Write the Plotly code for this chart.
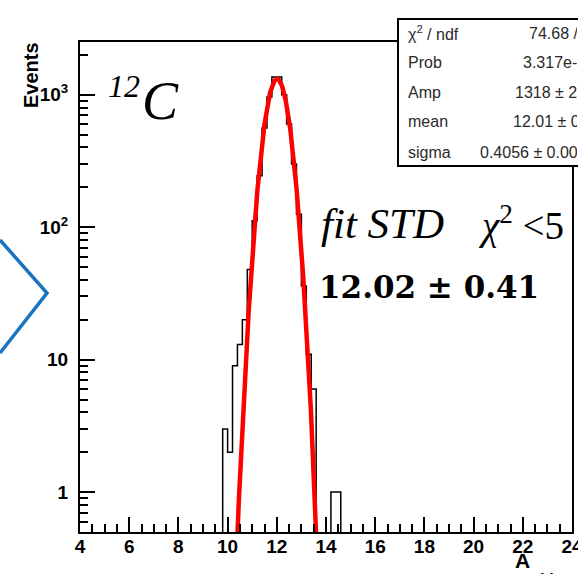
import numpy as np
import plotly.graph_objects as go

# ---- histogram of A_chi12 (0.2-wide bins) ----
bin_lo = [9.8, 10.0, 10.2, 10.4, 10.6, 10.8, 11.0, 11.2, 11.4, 11.6, 11.8, 12.0,
          12.2, 12.4, 12.6, 12.8, 13.0, 13.2, 13.4, 13.6, 13.8, 14.0, 14.2, 14.4]
counts = [3, 2, 9, 13, 20, 48, 112, 245, 560, 960, 1360, 1360,
          1000, 600, 300, 125, 36, 11, 6, 0, 0, 0, 1, 1]
bin_w = 0.2

# ---- Gaussian fit parameters ----
fit_amp, fit_mean, fit_sigma = 1318.0, 12.01, 0.4056
fit_range = (10.0, 14.0)

stat_names = ["χ<sup>2</sup> / ndf", "Prob", "Amp", "mean", "sigma"]
stat_values = ["74.68 / 13", "3.317e-10", "1318 ± 22.9", "12.01 ± 0.01", "0.4056 ± 0.0067"]

x_ticks = [4, 6, 8, 10, 12, 14, 16, 18, 20, 22, 24]
y_ticks = [1, 10, 100, 1000]
y_ticktext = ["1", "10", "10<sup>2</sup>", "10<sup>3</sup>"]

W, H = 578, 574
L, R, T, B = 80, 572, 42, 532  # plot frame in pixels


def px(x):
    return (x - L) / (R - L)


def py(y):
    return (B - y) / (B - T)


# step outline of the histogram; empty bins drop below the axis
floor = 1e-3
hx = [bin_lo[0]]
hy = [floor]
for lo, c in zip(bin_lo, counts):
    hx.append(lo)
    hy.append(c if c > 0 else floor)
hx.append(bin_lo[-1] + bin_w)
hy.append(floor)

fx = np.linspace(fit_range[0], fit_range[1], 400)
fy = fit_amp * np.exp(-0.5 * ((fx - fit_mean) / fit_sigma) ** 2)

fig = go.Figure()
fig.add_trace(go.Scatter(x=hx, y=hy, mode="lines", line=dict(color="black", width=1.5, shape="hv"),
                         hoverinfo="skip"))
fig.add_trace(go.Scatter(x=fx, y=fy, mode="lines", line=dict(color="#ff0000", width=4.5),
                         hoverinfo="skip"))

tickfont = dict(family="Liberation Sans, Arial", size=19, color="black", weight="bold")

fig.update_xaxes(range=[4, 24], tickmode="array", tickvals=x_ticks, ticks="inside", ticklen=15,
                 tickwidth=2, tickcolor="black", showline=True, linewidth=2, linecolor="black",
                 mirror=True, showgrid=False, zeroline=False, tickfont=tickfont,
                 ticklabeloverflow="allow", automargin=False, ticklabelstandoff=-4,
                 minor=dict(dtick=0.5, ticks="inside", ticklen=8, tickwidth=2, tickcolor="black",
                            showgrid=False))
fig.update_yaxes(type="log", range=[np.log10(0.5), np.log10(2500)], tickmode="array",
                 tickvals=y_ticks, ticktext=y_ticktext, ticks="inside", ticklen=15, tickwidth=2,
                 tickcolor="black", showline=True, linewidth=2, linecolor="black", mirror=True,
                 showgrid=False, zeroline=False, tickfont=tickfont, ticklabelstandoff=6,
                 automargin=False,
                 minor=dict(dtick="D1", ticks="inside", ticklen=8, tickwidth=2, tickcolor="black",
                            showgrid=False))

shapes = [
    # statistics box, running off the right edge of the canvas
    dict(type="path", xref="paper", yref="paper",
         path=f"M {px(W)} {py(19)} L {px(398)} {py(19)} L {px(398)} {py(166)} L {px(W)} {py(166)} Z",
         line=dict(color="black", width=0), fillcolor="white", layer="above"),
    dict(type="path", xref="paper", yref="paper",
         path=f"M {px(W)} {py(19)} L {px(398)} {py(19)} L {px(398)} {py(166)} L {px(W)} {py(166)}",
         line=dict(color="black", width=2), layer="above"),
    # blue outline entering from the left edge
    dict(type="path", xref="paper", yref="paper",
         path=f"M {px(0)} {py(240)} L {px(47)} {py(293)} L {px(0)} {py(353)}",
         line=dict(color="#1a73c0", width=3.5), layer="above"),
]

annotations = []


def note(x, y, text, font, xanchor="left", **kw):
    annotations.append(dict(x=px(x), y=py(y), xref="paper", yref="paper", text=text,
                            showarrow=False, xanchor=xanchor, yanchor="middle", font=font, **kw))


serif = "Liberation Serif, Times New Roman"
note(106, 86, "<i>12</i>", dict(family=serif, size=32, color="black"))
note(140, 101, "<i>C</i>", dict(family=serif, size=54, color="black"))
note(319, 223, "<i>fit STD</i>", dict(family=serif, size=43, color="black"))
note(476, 223, "<i>χ</i><sup>2</sup> <5", dict(family=serif, size=39, color="black"))
note(317, 287, "12.02 ± 0.41", dict(family="DejaVu Serif", size=31, color="black", weight="bold"))

# statistics rows; values run past the canvas edge and are clipped to their boxes
statfont = dict(family="Liberation Sans, Arial", size=16, color="#2a2a2a")
row_y = [33, 62, 92, 122, 152]
val_x = [527, 521, 513, 511, 478]
for name, val, yy, vx in zip(stat_names, stat_values, row_y, val_x):
    note(406, yy, name, statfont)
    note(vx, yy, val, statfont, width=W - vx - 3, align="left")

note(31, 75, "Events", dict(family="Liberation Sans, Arial", size=20, color="black", weight="bold"),
     xanchor="center", textangle=-90)
note(513, 560, "A", dict(family="Liberation Sans, Arial", size=21, color="black", weight="bold"))
annotations.append(dict(x=px(530), y=py(568), xref="paper", yref="paper", text="chi12",
                        showarrow=False, xanchor="left", yanchor="top", valign="top",
                        height=5, width=40, align="left",
                        font=dict(family="Liberation Sans, Arial", size=15, color="black",
                                  weight="bold")))

fig.update_layout(width=W, height=H, margin=dict(l=L, r=W - R, t=T, b=H - B, autoexpand=False),
                  paper_bgcolor="white", plot_bgcolor="white", showlegend=False,
                  shapes=shapes, annotations=annotations)

fig.write_html("out.html")
